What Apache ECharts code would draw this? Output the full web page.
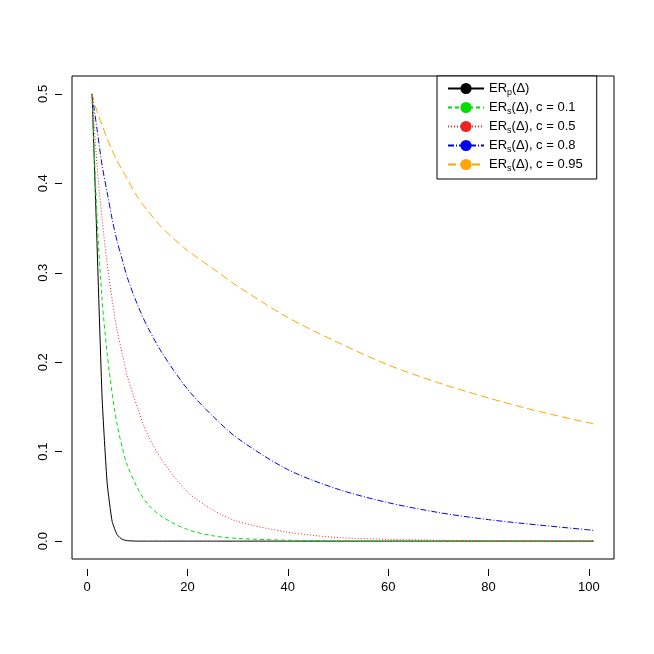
<!DOCTYPE html>
<html><head><meta charset="utf-8">
<script src="https://cdn.jsdelivr.net/npm/echarts@6/dist/echarts.min.js"></script>
<style>html,body{margin:0;background:#fff}#c{width:654px;height:654px}</style>
</head><body><div id="c"></div>
<script>
const xs = [1,2,3,4,5,6,7,8,10,12,15,20,25,30,40,50,60,70,80,90,101];
const erp = [0.5,0.33,0.16,0.065,0.022,0.007,0.002,0.0005,0,0,0,0,0,0,0,0,0,0,0,0,0];
const c01 = [0.5,0.36,0.27,0.21,0.165,0.13,0.105,0.085,0.06,0.042,0.027,0.013,0.006,0.003,0.001,0.0003,0,0,0,0,0];
const c05 = [0.5,0.42,0.36,0.31,0.27,0.235,0.21,0.185,0.15,0.12,0.09,0.055,0.035,0.022,0.01,0.004,0.002,0.001,0.0005,0.0002,0.0001];
const c08 = [0.5,0.46,0.42,0.39,0.36,0.335,0.315,0.295,0.265,0.24,0.21,0.17,0.14,0.115,0.08,0.058,0.043,0.032,0.024,0.018,0.012];
const c095 = [0.5,0.48,0.465,0.45,0.437,0.425,0.415,0.405,0.385,0.37,0.35,0.325,0.305,0.285,0.25,0.222,0.197,0.177,0.16,0.145,0.131];
const xTicks = [0,20,40,60,80,100];
const yTicks = [0,0.1,0.2,0.3,0.4,0.5];
const names = ['ERp','ERs1','ERs5','ERs8','ERs95'];
const labels = {ERp:'ER{s|p}(Δ)',ERs1:'ER{s|s}(Δ), c = 0.1',ERs5:'ER{s|s}(Δ), c = 0.5',ERs8:'ER{s|s}(Δ), c = 0.8',ERs95:'ER{s|s}(Δ), c = 0.95'};
const datas = [erp,c01,c05,c08,c095];
const colors = ['#000','#00dd00','#ee2222','#0000ee','#ffa500'];
const dashes = ['solid',[4,3],[1,2],[6,2,1,2],[8,4]];
const ch = echarts.init(document.getElementById('c'));
ch.setOption({
  animation:false,
  textStyle:{fontFamily:'Liberation Sans, Arial'},
  grid:{left:72,right:40,top:76,bottom:95,show:true,borderColor:'#000',borderWidth:1},
  xAxis:{type:'value',min:-3,max:105,offset:10,splitLine:{show:false},axisLine:{show:false,onZero:false},
    axisTick:{show:true,inside:false,length:7,lineStyle:{color:'#000'},customValues:xTicks},
    axisLabel:{color:'#000',fontSize:13,margin:12,customValues:xTicks}},
  yAxis:{type:'value',min:-0.02,max:0.52,offset:10,splitLine:{show:false},axisLine:{show:false,onZero:false},
    axisTick:{show:true,inside:false,length:7,lineStyle:{color:'#000'},customValues:yTicks},
    axisLabel:{color:'#000',fontSize:13,rotate:90,margin:12,customValues:yTicks,formatter:v=>v.toFixed(1)}},
  legend:{orient:'vertical',left:437,top:76,backgroundColor:'#fff',borderColor:'#000',borderWidth:1,
    padding:[6,14,6,10],itemGap:4,itemWidth:36,itemHeight:14,data:names,
    formatter:n=>labels[n],
    textStyle:{color:'#000',fontSize:13,rich:{s:{fontSize:9,padding:[8,0,0,0]}}}},
  series:datas.map((d,i)=>({name:names[i],type:'line',showSymbol:false,symbol:'none',smooth:i===0?0.15:0.3,
    data:xs.map((x,j)=>[x,d[j]]),lineStyle:{color:colors[i],width:1,type:dashes[i]},itemStyle:{color:colors[i]}}))
});
</script></body></html>
